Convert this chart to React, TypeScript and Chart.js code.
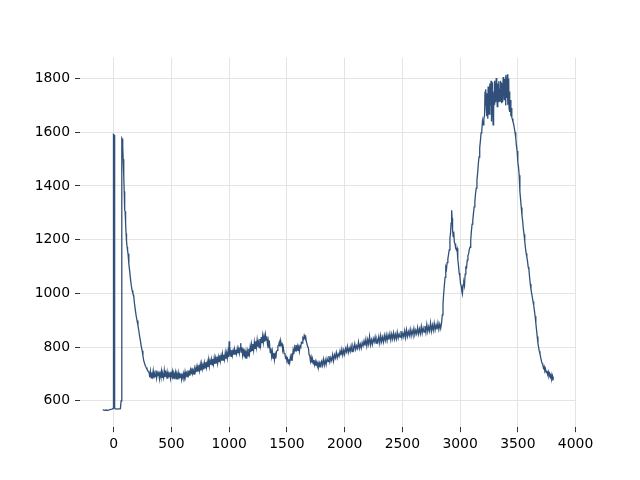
import React, { useEffect, useRef } from "react";
import { Chart, registerables } from "chart.js";

Chart.register(...registerables);

const xTicks = [0, 500, 1000, 1500, 2000, 2500, 3000, 3500, 4000];
const yTicks = [600, 800, 1000, 1200, 1400, 1600, 1800];

const baseline = [[-95,567],[-85,566],[-75,565],[-65,566],[-55,565],[-45,566],[-35,567],[-25,568],[-15,569],[-10,570]];
const spikes = [[-6,572],[-2,1592],[3,1590],[8,575],[12,570],[20,570],[30,569],[40,570],[50,570],[58,571],[64,600],[70,1578],[74,1575],[78,1547],[82,1500],[87,1435],[91,1380],[95,1310],[99,1305],[103,1260],[107,1223],[111,1195],[116,1173],[120,1160],[124,1148],[131,1110],[139,1080],[145,1055],[152,1030],[159,1011],[166,1000],[173,993],[180,962],[188,936],[195,915],[202,899],[210,880],[217,862],[224,842],[231,824],[238,805],[246,787],[253,768],[260,750],[267,740],[274,731],[281,724],[288,718],[295,713],[303,708]];
const plateau = [[308,702],[312,688],[318,710],[324,686],[330,706],[336,692],[342,712],[348,684],[354,700],[360,690],[366,714],[372,686],[378,704],[384,694],[390,709],[396,683],[402,702],[408,690],[414,711],[420,688],[426,698],[432,686],[438,713],[444,689],[450,704],[456,692],[462,708],[468,683],[474,701],[480,690],[486,707],[492,684],[498,703],[504,693],[510,709],[516,685],[522,700],[528,690],[534,706],[540,682],[546,699],[552,689],[558,705],[564,681],[570,698],[576,688],[582,703],[588,680],[594,696],[600,686]];
const slowRise = [[606,702],[612,686],[618,708],[624,692],[630,703],[636,690],[642,713],[648,696],[654,707],[660,694],[666,715],[672,702],[678,723],[684,702],[690,713],[696,700],[702,720],[708,711],[714,726],[720,708],[726,726],[732,712],[738,734],[744,714],[750,735],[756,713],[762,738],[768,719],[774,733],[780,717],[786,741],[792,723],[798,744],[804,725],[810,743],[816,726],[822,752],[828,729],[834,749],[840,735],[846,754],[852,734],[858,756],[864,737],[870,760],[876,738],[882,759],[888,742],[894,765],[900,741],[906,763],[912,746],[918,770],[924,749],[930,767],[936,750],[942,774],[948,752],[954,772],[960,755],[966,779],[972,757],[978,778],[984,759],[990,783],[996,763],[1000,822],[1004,768],[1010,785],[1016,766],[1022,789],[1028,770],[1034,786],[1040,772],[1046,792],[1052,774],[1058,790],[1064,776],[1070,795],[1076,778],[1082,793],[1088,777],[1094,797],[1100,815],[1104,782],[1110,800],[1116,772],[1122,795],[1128,765],[1134,788],[1140,758],[1146,782],[1152,757],[1158,784],[1164,768],[1170,794],[1176,776],[1182,802],[1188,782],[1194,810],[1200,788]];
const humps = [[1206,812],[1212,790],[1218,818],[1224,796],[1230,822],[1236,800],[1242,826],[1248,802],[1254,818],[1260,798],[1266,830],[1272,808],[1278,838],[1284,815],[1290,842],[1296,818],[1302,840],[1308,820],[1314,846],[1320,826],[1326,840],[1332,810],[1338,825],[1344,796],[1350,810],[1356,780],[1362,796],[1368,766],[1374,784],[1380,758],[1386,778],[1392,753],[1398,772],[1404,758],[1410,784],[1416,788],[1422,804],[1428,806],[1434,818],[1440,802],[1446,824],[1452,808],[1458,812],[1464,788],[1470,796],[1476,776],[1482,778],[1488,760],[1494,764],[1500,750],[1506,756],[1512,739],[1518,755],[1524,742],[1530,764],[1536,752],[1542,776],[1548,762],[1554,788],[1560,774],[1566,798],[1572,786],[1578,808],[1584,792],[1590,804],[1596,786],[1602,800],[1608,784],[1614,804],[1620,800],[1626,818],[1632,815],[1638,834],[1644,830],[1650,844],[1656,836],[1662,840],[1668,822],[1674,822],[1680,802],[1686,798],[1692,772],[1698,768],[1704,748],[1710,762],[1716,742],[1722,756],[1728,738],[1734,752],[1740,734],[1746,746],[1752,731],[1758,744],[1764,729],[1770,741],[1776,728],[1782,740],[1788,727],[1794,742]];
const longRise = [[1800,748],[1808,732],[1816,755],[1824,733],[1832,752],[1840,735],[1848,758],[1856,746],[1864,767],[1872,745],[1880,761],[1888,750],[1896,772],[1904,749],[1912,771],[1920,760],[1928,780],[1936,760],[1944,775],[1952,766],[1960,786],[1968,769],[1976,792],[1984,770],[1992,789],[2000,773],[2008,795],[2016,783],[2024,803],[2032,780],[2040,796],[2048,784],[2056,805],[2064,783],[2072,804],[2080,792],[2088,812],[2096,791],[2104,805],[2112,795],[2120,819],[2128,796],[2136,811],[2144,796],[2152,817],[2160,805],[2168,823],[2176,806],[2184,829],[2192,804],[2200,828],[2208,811],[2216,840],[2224,809],[2232,827],[2240,810],[2248,832],[2256,819],[2264,838],[2272,815],[2280,830],[2288,818],[2296,839],[2304,815],[2312,843],[2320,820],[2328,837],[2336,819],[2344,844],[2352,825],[2360,846],[2368,824],[2376,845],[2384,828],[2392,850],[2400,827],[2408,849],[2416,831],[2424,853],[2432,830],[2440,848],[2448,831],[2456,855],[2464,834],[2472,849],[2480,837],[2488,860],[2496,836],[2504,852],[2512,838],[2520,861],[2528,836],[2536,864],[2544,840],[2552,858],[2560,843],[2568,866],[2576,842],[2584,862],[2592,847],[2600,869],[2608,846],[2616,863],[2624,850],[2632,873],[2640,849],[2648,868],[2656,851],[2664,877],[2672,852],[2680,871],[2688,856],[2696,879],[2704,855],[2712,884],[2720,858],[2728,876],[2736,860],[2744,890],[2752,860],[2760,882],[2768,863],[2776,889],[2784,864],[2792,883],[2800,866],[2808,890],[2816,866],[2824,886],[2832,870]];
const shoulder = [[2840,892],[2846,920],[2852,960],[2858,1000],[2864,1030],[2870,1060],[2876,1098],[2882,1090],[2888,1115],[2894,1128],[2900,1145],[2906,1162],[2912,1205],[2918,1228],[2922,1262],[2927,1310],[2931,1280],[2935,1236],[2940,1212],[2945,1230],[2950,1192],[2956,1185],[2962,1168],[2968,1162],[2974,1168],[2980,1128],[2986,1104],[2992,1076],[2998,1064],[3004,1036],[3010,1028],[3016,1006],[3020,998],[3026,1032],[3032,1040],[3038,1028],[3044,1072],[3050,1098],[3056,1096],[3062,1124],[3068,1140],[3074,1148],[3080,1164],[3086,1172],[3092,1198],[3098,1232],[3104,1258],[3110,1272],[3116,1298],[3122,1322],[3128,1342],[3134,1372],[3140,1392],[3146,1422],[3152,1448],[3158,1482],[3164,1508],[3170,1542],[3176,1568],[3182,1598],[3188,1606],[3194,1642],[3200,1628],[3206,1652],[3212,1662],[3216,1752],[3220,1700]];
const peak = [[3224,1760],[3227,1690],[3230,1745],[3233,1660],[3236,1725],[3240,1650],[3243,1770],[3246,1700],[3249,1748],[3252,1668],[3256,1782],[3259,1712],[3262,1760],[3265,1700],[3268,1792],[3271,1722],[3274,1640],[3277,1762],[3280,1702],[3283,1786],[3286,1628],[3289,1735],[3292,1680],[3295,1752],[3298,1702],[3301,1792],[3304,1722],[3307,1772],[3310,1712],[3313,1802],[3316,1728],[3319,1765],[3322,1696],[3325,1782],[3328,1718],[3331,1772],[3334,1712],[3337,1790],[3340,1734],[3343,1762],[3346,1716],[3349,1792],[3352,1728],[3355,1772],[3358,1708],[3361,1785],[3364,1738],[3367,1778],[3370,1712],[3373,1806],[3376,1740],[3379,1782],[3382,1722],[3385,1798],[3388,1748],[3391,1778],[3394,1700],[3397,1812],[3400,1742],[3403,1790],[3406,1728],[3409,1816],[3412,1702],[3415,1768],[3418,1732],[3421,1800],[3424,1690],[3428,1752],[3432,1676],[3436,1720],[3440,1660],[3444,1690],[3448,1655]];
const decline = [[3452,1650],[3458,1640],[3464,1630],[3470,1615],[3476,1600],[3482,1580],[3488,1550],[3494,1530],[3500,1490],[3506,1470],[3512,1440],[3518,1380],[3524,1350],[3530,1320],[3536,1290],[3542,1270],[3548,1240],[3554,1220],[3560,1195],[3566,1170],[3572,1150],[3578,1136],[3584,1120],[3590,1098],[3596,1090],[3602,1060],[3608,1035],[3614,1015],[3620,1000],[3626,985],[3632,970],[3638,955],[3644,935],[3650,915],[3656,890],[3662,865],[3668,840],[3674,815],[3680,800],[3686,785],[3692,775],[3698,762],[3704,750],[3710,740],[3716,735],[3722,722],[3728,728],[3734,712],[3740,718],[3746,705],[3752,712],[3758,698],[3764,708],[3770,692],[3776,700],[3782,688],[3788,698],[3794,682],[3800,692],[3804,676],[3808,688]];

const segments = [baseline, spikes, plateau, slowRise, humps, longRise, shoulder, peak, decline];

export default function App() {
  const canvasRef = useRef<HTMLCanvasElement | null>(null);

  useEffect(() => {
    const canvas = canvasRef.current;
    if (!canvas) return;
    const points = segments.flat().map(([x, y]) => ({ x, y }));
    const tickFont = { family: "DejaVu Sans", size: 13.9 };
    const chart = new Chart(canvas, {
      type: "line",
      data: {
        datasets: [
          {
            data: points,
            borderColor: "#30507a",
            borderWidth: 1.3,
            pointRadius: 0,
            fill: false,
            tension: 0,
          },
        ],
      },
      options: {
        animation: false,
        responsive: false,
        devicePixelRatio: 1,
        layout: { padding: { top: 57.6, right: 64, left: 0, bottom: 0 } },
        plugins: { legend: { display: false }, tooltip: { enabled: false } },
        scales: {
          x: {
            type: "linear",
            min: -292,
            max: 4004,
            afterBuildTicks: (s: any) => {
              s.ticks = xTicks.map((v) => ({ value: v }));
            },
            afterFit: (s: any) => {
              s.height = 52.8;
            },
            border: { display: false },
            grid: { color: "#e4e4e4", lineWidth: 1, drawTicks: true, tickLength: 5, tickColor: "#333", tickWidth: 1 },
            ticks: { font: tickFont, color: "#000", padding: 4, maxRotation: 0, autoSkip: false, callback: (v: any) => String(v) },
          },
          y: {
            type: "linear",
            min: 502,
            max: 1878,
            afterBuildTicks: (s: any) => {
              s.ticks = yTicks.map((v) => ({ value: v }));
            },
            afterFit: (s: any) => {
              s.width = 80;
            },
            border: { display: false },
            grid: { color: "#e4e4e4", lineWidth: 1, drawTicks: true, tickLength: 5, tickColor: "#333", tickWidth: 1 },
            ticks: { font: tickFont, color: "#000", padding: 5, autoSkip: false, callback: (v: any) => String(v) },
          },
        },
      },
    });
    return () => chart.destroy();
  }, []);

  return (
    <div style={{ position: "fixed", left: 0, top: 0, width: 640, height: 480, background: "#fff" }}>
      <canvas ref={canvasRef} width={640} height={480} />
    </div>
  );
}
